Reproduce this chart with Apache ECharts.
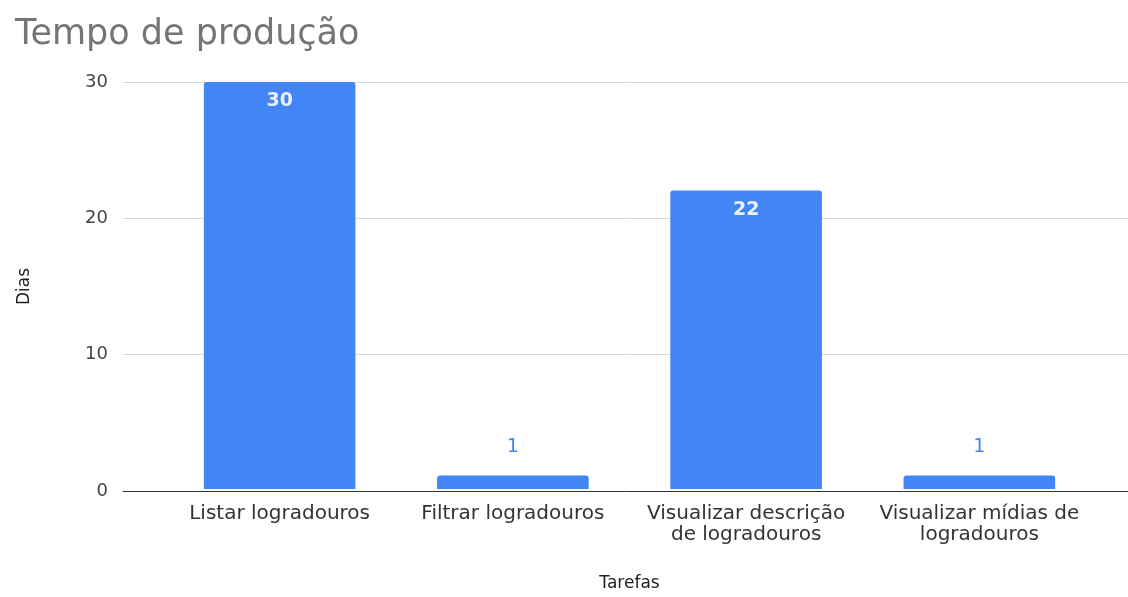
<!DOCTYPE html>
<html>
<head>
<meta charset="utf-8">
<script src="https://cdn.jsdelivr.net/npm/echarts@6/dist/echarts.min.js"></script>
<style>
  html, body { margin: 0; padding: 0; background: #fff; }
  #chart { width: 1128px; height: 597px; }
</style>
</head>
<body>
<div id="chart"></div>
<script>
const myChart = echarts.init(document.getElementById('chart'));

// data
const tarefas = ['Listar logradouros', 'Filtrar logradouros', 'Visualizar descrição de logradouros', 'Visualizar mídias de logradouros'];
const tarefasLabels = ['Listar logradouros', 'Filtrar logradouros', 'Visualizar descrição\nde logradouros', 'Visualizar mídias de\nlogradouros'];
const dias = [30, 1, 22, 1];
const yTicks = [0, 10, 20, 30];

const font = 'DejaVu Sans, Liberation Sans, sans-serif';

let barData = dias.map(function (v) {
  if (v >= 5) {
    return { value: v, label: { position: 'insideTop', distance: 10, color: '#e8f0fe' } };
  }
  return { value: v, label: { position: 'top', distance: 19, color: '#4a86e8', fontWeight: 'normal' } };
});

let option = {
  animation: false,
  title: {
    text: 'Tempo de produção',
    left: 10,
    top: 12,
    textStyle: { fontFamily: font, fontSize: 35, fontWeight: 'normal', color: '#757575' }
  },
  grid: [
    { left: 123, right: 0, top: 82, bottom: 106 },
    { left: 163, right: 32, top: 82, bottom: 106 }
  ],
  xAxis: [
    {
      type: 'value',
      gridIndex: 0,
      min: 0,
      max: 1,
      axisLine: { show: true, lineStyle: { color: '#333', width: 1 } },
      axisTick: { show: false },
      axisLabel: { show: false },
      splitLine: { show: false }
    },
    {
      type: 'category',
      gridIndex: 1,
      data: tarefas,
      axisLine: { show: false },
      axisTick: { show: false },
      axisLabel: {
        interval: 0,
        margin: 14,
        fontFamily: font,
        fontSize: 20,
        lineHeight: 21,
        color: '#333',
        formatter: function (val, i) { return tarefasLabels[i]; }
      },
      name: 'Tarefas',
      nameLocation: 'middle',
      nameGap: 86,
      nameTextStyle: { fontFamily: font, fontSize: 17, color: '#222' }
    }
  ],
  yAxis: [
    {
      type: 'value',
      gridIndex: 0,
      min: yTicks[0],
      max: yTicks[yTicks.length - 1],
      interval: 10,
      axisLine: { show: false },
      axisTick: { show: false },
      axisLabel: { margin: 15, fontFamily: font, fontSize: 18, color: '#444' },
      splitLine: { lineStyle: { color: '#d9d9d9', width: 1 } },
      name: 'Dias',
      nameLocation: 'middle',
      nameGap: 90,
      nameTextStyle: { fontFamily: font, fontSize: 17, color: '#222' }
    },
    {
      type: 'value',
      gridIndex: 1,
      min: yTicks[0],
      max: yTicks[yTicks.length - 1],
      show: false
    }
  ],
  series: [
    {
      type: 'bar',
      xAxisIndex: 1,
      yAxisIndex: 1,
      barCategoryGap: '35%',
      data: barData,
      itemStyle: { color: '#4285f4', borderWidth: 0, borderRadius: [3, 3, 0, 0] },
      label: { show: true, fontFamily: font, fontSize: 19, fontWeight: 'bold' }
    }
  ]
};

myChart.setOption(option);
</script>
</body>
</html>
